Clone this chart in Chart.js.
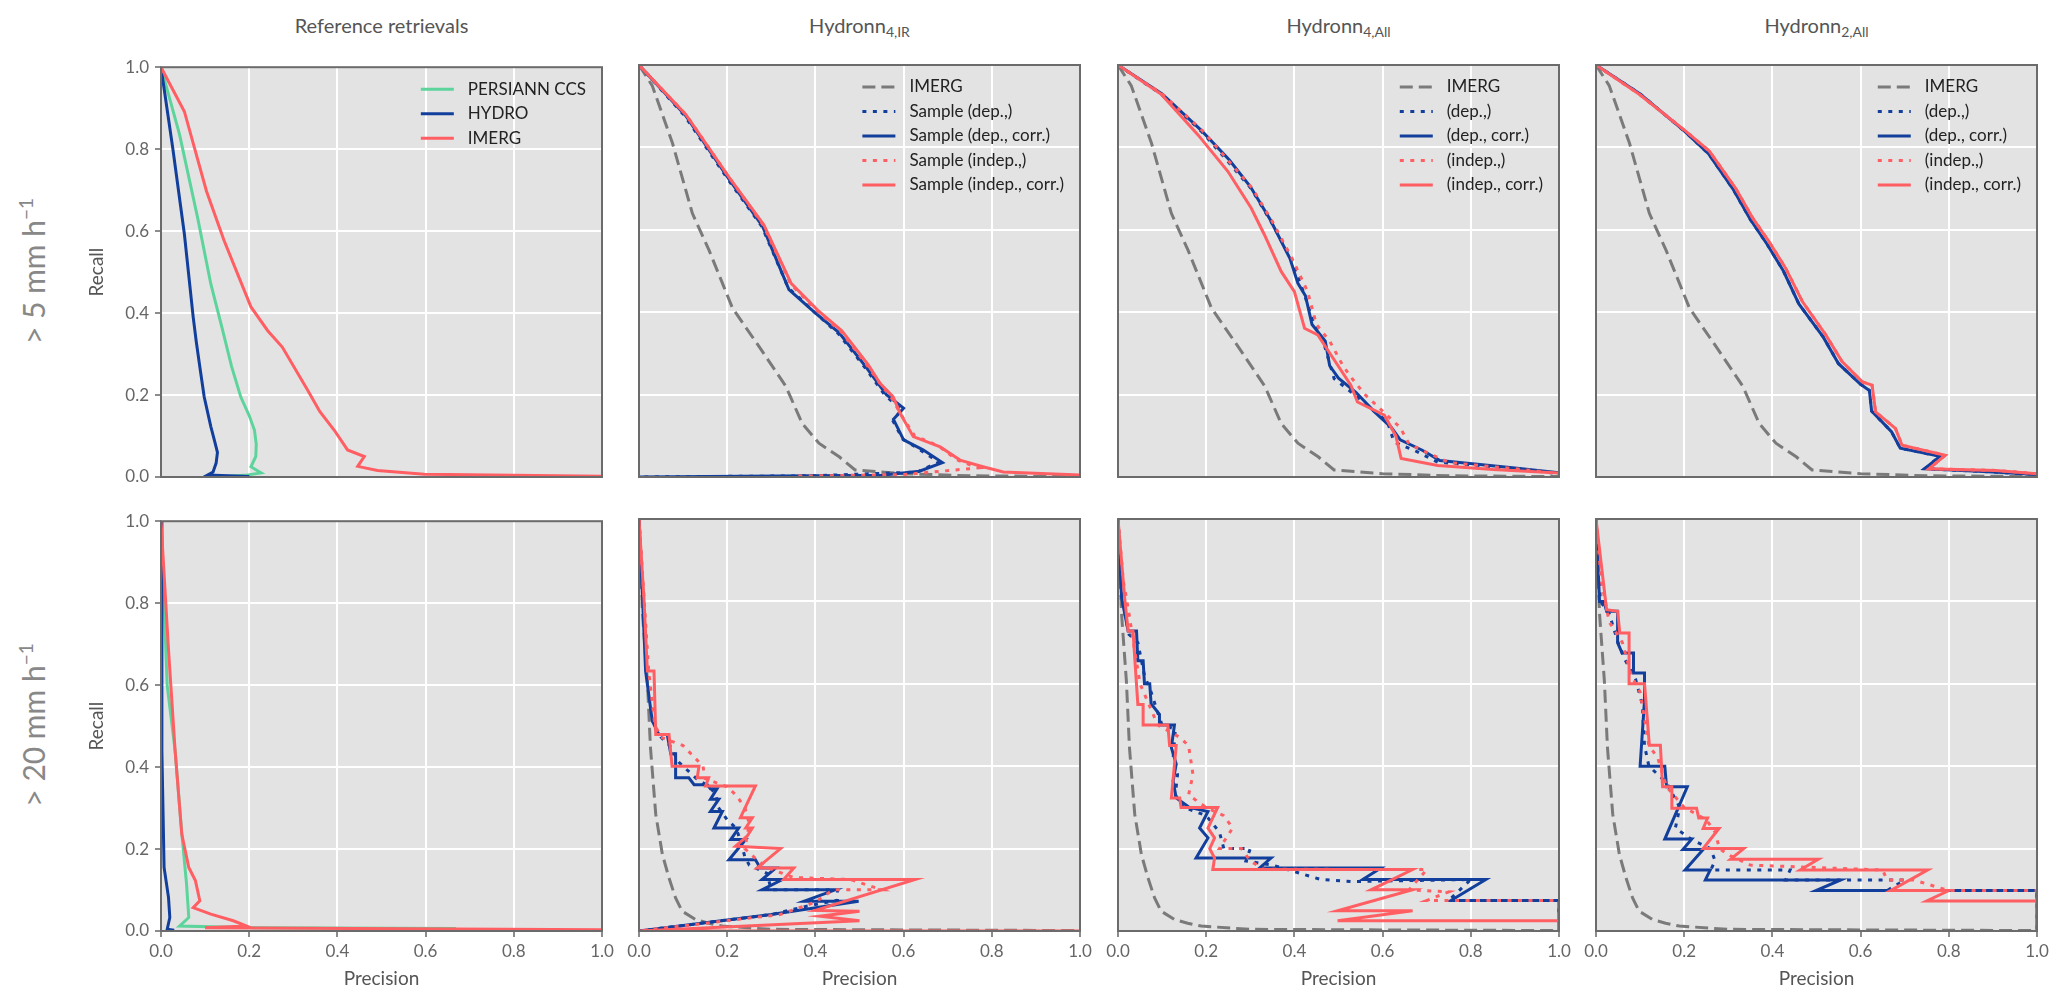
<!DOCTYPE html>
<html>
<head>
<meta charset="utf-8">
<title>Precision-recall curves</title>
<script src="https://cdn.jsdelivr.net/npm/chart.js@4.4.0/dist/chart.umd.min.js"></script>
<style>
    body { margin: 0; background: #fff; width: 2067px; height: 1008px; overflow: hidden; position: relative; font-family: Lato, sans-serif; }
    canvas { position: absolute; }
    .coltitle { position: absolute; top: 10px; width: 441px; height: 30px; line-height: 30px; text-align: center; font-size: 20px; color: #555; }
    .coltitle sub { font-size: 14px; vertical-align: -4px; line-height: 0; }
    .rowlabel { position: absolute; width: 300px; height: 40px; line-height: 40px; text-align: center; font-size: 30px; color: #888; transform: rotate(-90deg); white-space: nowrap; }
    .rowlabel sup { font-size: 19px; vertical-align: 12px; line-height: 0; }
</style>
</head>
<body>
<div class="coltitle" style="left:161px">Reference retrievals</div>
<div class="coltitle" style="left:639px">Hydronn<sub>4,IR</sub></div>
<div class="coltitle" style="left:1118px">Hydronn<sub>4,All</sub></div>
<div class="coltitle" style="left:1596px">Hydronn<sub>2,All</sub></div>
<div class="rowlabel" style="left:-117px; top:251px">&gt; 5 mm h<sup>−1</sup></div>
<div class="rowlabel" style="left:-117px; top:705px">&gt; 20 mm h<sup>−1</sup></div>

<script>
// Curves as [precision, recall] pairs

// > 5 mm/h, reference retrievals
const persiann5 = [[0, 1], [0.042, 0.836], [0.083, 0.633], [0.113, 0.471], [0.14, 0.357], [0.16, 0.27], [0.181, 0.195], [0.2, 0.15], [0.212, 0.114], [0.216, 0.08], [0.215, 0.05], [0.204, 0.025], [0.227, 0.01], [0.19, 0.004], [0.15, 0.002]];
const hydro5 = [[0, 1], [0.027, 0.8], [0.053, 0.593], [0.073, 0.39], [0.08, 0.33], [0.088, 0.269], [0.098, 0.195], [0.113, 0.123], [0.121, 0.09], [0.128, 0.06], [0.125, 0.034], [0.118, 0.012], [0.106, 0.005], [0.2, 0.001]];
const imergRef5 = [[0, 1], [0.053, 0.892], [0.103, 0.698], [0.143, 0.577], [0.204, 0.415], [0.242, 0.357], [0.275, 0.317], [0.333, 0.211], [0.36, 0.16], [0.393, 0.114], [0.423, 0.066], [0.461, 0.05], [0.446, 0.026], [0.491, 0.016], [0.597, 0.007], [1, 0.002]];

// > 5 mm/h, IMERG baseline shown in the Hydronn panels
const imerg5 = [[0, 1], [0.03, 0.95], [0.076, 0.81], [0.121, 0.64], [0.159, 0.55], [0.212, 0.41], [0.272, 0.317], [0.333, 0.22], [0.37, 0.13], [0.408, 0.082], [0.454, 0.049], [0.49, 0.017], [0.6, 0.008], [0.75, 0.003], [1, 0.001]];

// > 5 mm/h, Hydronn 4 IR
const h4ir5DepDot = [[0, 1], [0.104, 0.876], [0.202, 0.722], [0.279, 0.607], [0.338, 0.46], [0.398, 0.4], [0.452, 0.348], [0.512, 0.266], [0.558, 0.198], [0.596, 0.163], [0.575, 0.138], [0.598, 0.092], [0.64, 0.064], [0.68, 0.036], [0.63, 0.012], [0.4, 0.003], [0, 0]];
const h4ir5Dep = [[0, 1], [0.106, 0.877], [0.204, 0.723], [0.28, 0.609], [0.34, 0.455], [0.4, 0.398], [0.454, 0.35], [0.514, 0.268], [0.561, 0.2], [0.6, 0.167], [0.577, 0.14], [0.6, 0.09], [0.644, 0.066], [0.688, 0.035], [0.636, 0.014], [0.55, 0.004], [0, 0]];
const h4ir5IndepDot = [[0, 1], [0.107, 0.879], [0.205, 0.726], [0.282, 0.611], [0.344, 0.468], [0.404, 0.403], [0.458, 0.353], [0.518, 0.27], [0.548, 0.225], [0.574, 0.19], [0.595, 0.15], [0.625, 0.1], [0.68, 0.075], [0.72, 0.042], [0.77, 0.022], [0.6, 0.006], [0.35, 0.002]];
const h4ir5Indep = [[0, 1], [0.106, 0.88], [0.204, 0.728], [0.283, 0.612], [0.345, 0.47], [0.405, 0.405], [0.46, 0.355], [0.52, 0.272], [0.546, 0.228], [0.576, 0.195], [0.592, 0.155], [0.622, 0.098], [0.683, 0.073], [0.728, 0.041], [0.78, 0.025], [0.826, 0.012], [1, 0.005]];

// > 5 mm/h, Hydronn 4 All
const h4all5DepDot = [[0, 1], [0.098, 0.929], [0.189, 0.839], [0.249, 0.766], [0.302, 0.7], [0.347, 0.62], [0.392, 0.531], [0.423, 0.442], [0.445, 0.369], [0.468, 0.32], [0.49, 0.239], [0.528, 0.207], [0.574, 0.166], [0.611, 0.134], [0.626, 0.085], [0.679, 0.061], [0.725, 0.036], [0.906, 0.02], [1, 0.008]];
const h4all5Dep = [[0, 1], [0.1, 0.93], [0.19, 0.84], [0.252, 0.77], [0.3, 0.705], [0.345, 0.625], [0.39, 0.53], [0.408, 0.47], [0.425, 0.44], [0.44, 0.37], [0.47, 0.33], [0.48, 0.27], [0.5, 0.24], [0.54, 0.205], [0.58, 0.16], [0.62, 0.12], [0.64, 0.09], [0.69, 0.065], [0.73, 0.04], [0.9, 0.022], [1, 0.01]];
const h4all5IndepDot = [[0, 1], [0.1, 0.93], [0.192, 0.84], [0.25, 0.768], [0.305, 0.7], [0.35, 0.62], [0.395, 0.53], [0.43, 0.45], [0.45, 0.37], [0.48, 0.33], [0.51, 0.27], [0.53, 0.24], [0.56, 0.2], [0.6, 0.16], [0.64, 0.12], [0.66, 0.08], [0.7, 0.06], [0.75, 0.035], [0.92, 0.018], [1, 0.008]];
const h4all5Indep = [[0, 1], [0.098, 0.929], [0.181, 0.831], [0.249, 0.742], [0.302, 0.653], [0.332, 0.588], [0.37, 0.499], [0.4, 0.45], [0.423, 0.361], [0.453, 0.345], [0.483, 0.296], [0.528, 0.223], [0.543, 0.182], [0.604, 0.15], [0.63, 0.1], [0.642, 0.045], [0.725, 0.028], [0.85, 0.018], [1, 0.01]];

// > 5 mm/h, Hydronn 2 All
const h2all5Dep = [[0, 1], [0.1, 0.93], [0.2, 0.84], [0.255, 0.785], [0.31, 0.7], [0.35, 0.625], [0.388, 0.565], [0.425, 0.5], [0.46, 0.42], [0.515, 0.34], [0.55, 0.275], [0.6, 0.225], [0.62, 0.21], [0.625, 0.16], [0.67, 0.11], [0.69, 0.07], [0.78, 0.05], [0.745, 0.02], [0.9, 0.012], [1, 0.006]];
const h2all5Indep = [[0, 1], [0.098, 0.929], [0.204, 0.839], [0.257, 0.791], [0.317, 0.7], [0.355, 0.629], [0.392, 0.572], [0.43, 0.507], [0.468, 0.426], [0.521, 0.345], [0.558, 0.28], [0.604, 0.231], [0.626, 0.223], [0.634, 0.158], [0.679, 0.118], [0.694, 0.077], [0.792, 0.053], [0.755, 0.02], [0.906, 0.016], [1, 0.008]];

// > 20 mm/h, reference retrievals
const persiann20 = [[0, 1], [0.014, 0.6], [0.032, 0.44], [0.047, 0.24], [0.058, 0.114], [0.063, 0.033], [0.042, 0.012], [0.214, 0.008], [0.669, 0.006]];
const hydro20 = [[0, 1], [0.002, 0.44], [0.007, 0.155], [0.017, 0.082], [0.02, 0.033], [0.014, 0.004], [0.03, 0.002]];
const imergRef20 = [[0, 1], [0.017, 0.687], [0.032, 0.44], [0.047, 0.237], [0.063, 0.155], [0.078, 0.123], [0.088, 0.074], [0.073, 0.057], [0.113, 0.041], [0.164, 0.025], [0.194, 0.012], [0.1, 0.008], [1, 0.003]];

// > 20 mm/h, IMERG baseline shown in the Hydronn panels
const imerg20 = [[0, 1], [0.008, 0.77], [0.019, 0.607], [0.026, 0.445], [0.038, 0.283], [0.053, 0.186], [0.068, 0.129], [0.083, 0.08], [0.098, 0.048], [0.128, 0.028], [0.158, 0.019], [0.189, 0.012], [0.3, 0.004], [1, 0.001]];

// > 20 mm/h, Hydronn 4 IR
const h4ir20DepDot = [[0, 1], [0.01, 0.8], [0.018, 0.63], [0.032, 0.5], [0.05, 0.47], [0.07, 0.45], [0.09, 0.41], [0.13, 0.37], [0.16, 0.35], [0.175, 0.33], [0.18, 0.3], [0.2, 0.27], [0.22, 0.25], [0.23, 0.22], [0.24, 0.18], [0.25, 0.16], [0.29, 0.14], [0.3, 0.1], [0.45, 0.1], [0.45, 0.075], [0.38, 0.06], [0.3, 0.04], [0, 0]];
const h4ir20Dep = [[0, 1], [0.008, 0.81], [0.015, 0.631], [0.03, 0.51], [0.045, 0.477], [0.064, 0.477], [0.072, 0.43], [0.083, 0.43], [0.083, 0.372], [0.113, 0.372], [0.125, 0.355], [0.155, 0.355], [0.162, 0.345], [0.177, 0.345], [0.162, 0.32], [0.181, 0.32], [0.162, 0.29], [0.189, 0.29], [0.17, 0.25], [0.226, 0.25], [0.208, 0.222], [0.242, 0.222], [0.204, 0.173], [0.264, 0.173], [0.275, 0.153], [0.31, 0.153], [0.279, 0.125], [0.325, 0.125], [0.279, 0.1], [0.445, 0.1], [0.374, 0.072], [0.498, 0.072], [0.3, 0.04], [0, 0]];
const h4ir20IndepDot = [[0, 1], [0.012, 0.8], [0.022, 0.63], [0.036, 0.5], [0.05, 0.47], [0.1, 0.45], [0.145, 0.4], [0.15, 0.37], [0.2, 0.35], [0.22, 0.33], [0.24, 0.3], [0.25, 0.26], [0.24, 0.2], [0.27, 0.17], [0.3, 0.15], [0.35, 0.13], [0.48, 0.125], [0.55, 0.1], [0.44, 0.1], [0.4, 0.07], [0.32, 0.04], [0, 0]];
const h4ir20Indep = [[0, 1], [0.011, 0.81], [0.019, 0.631], [0.034, 0.631], [0.038, 0.477], [0.068, 0.477], [0.075, 0.4], [0.136, 0.4], [0.132, 0.372], [0.158, 0.372], [0.151, 0.352], [0.264, 0.352], [0.23, 0.275], [0.257, 0.275], [0.242, 0.25], [0.257, 0.25], [0.245, 0.23], [0.219, 0.206], [0.321, 0.2], [0.268, 0.153], [0.351, 0.153], [0.328, 0.125], [0.626, 0.125], [0.4, 0.05], [0.5, 0.048], [0.41, 0.036], [0.5, 0.025], [0, 0], [1, 0]];

// > 20 mm/h, Hydronn 4 All
const h4all20DepDot = [[0, 1], [0.01, 0.8], [0.025, 0.72], [0.045, 0.7], [0.06, 0.62], [0.075, 0.58], [0.09, 0.53], [0.1, 0.5], [0.13, 0.49], [0.125, 0.42], [0.135, 0.38], [0.13, 0.33], [0.15, 0.3], [0.2, 0.28], [0.23, 0.24], [0.24, 0.2], [0.3, 0.2], [0.29, 0.17], [0.35, 0.16], [0.46, 0.125], [0.53, 0.12], [0.8, 0.125], [0.75, 0.074], [1, 0.074], [1, 0]];
const h4all20Dep = [[0, 1], [0.008, 0.81], [0.023, 0.728], [0.042, 0.728], [0.045, 0.656], [0.057, 0.656], [0.06, 0.6], [0.072, 0.6], [0.075, 0.552], [0.094, 0.526], [0.094, 0.5], [0.128, 0.5], [0.121, 0.445], [0.132, 0.405], [0.125, 0.364], [0.132, 0.323], [0.162, 0.3], [0.204, 0.29], [0.185, 0.25], [0.204, 0.226], [0.177, 0.177], [0.347, 0.177], [0.321, 0.153], [0.596, 0.153], [0.555, 0.125], [0.834, 0.125], [0.755, 0.074], [1, 0.074], [1, 0]];
const h4all20IndepDot = [[0, 1], [0.012, 0.85], [0.025, 0.77], [0.035, 0.7], [0.05, 0.6], [0.07, 0.55], [0.09, 0.5], [0.14, 0.47], [0.16, 0.45], [0.17, 0.38], [0.16, 0.33], [0.2, 0.3], [0.24, 0.28], [0.26, 0.25], [0.23, 0.2], [0.28, 0.2], [0.3, 0.17], [0.33, 0.15], [0.7, 0.149], [0.66, 0.1], [0.75, 0.095], [0.7, 0.074], [1, 0.074], [1, 0]];
const h4all20Indep = [[0, 1], [0.015, 0.81], [0.023, 0.728], [0.034, 0.728], [0.04, 0.63], [0.045, 0.55], [0.057, 0.55], [0.057, 0.5], [0.113, 0.5], [0.117, 0.45], [0.132, 0.45], [0.121, 0.323], [0.14, 0.323], [0.143, 0.3], [0.226, 0.3], [0.204, 0.25], [0.219, 0.226], [0.208, 0.2], [0.219, 0.177], [0.215, 0.149], [0.668, 0.149], [0.574, 0.1], [0.668, 0.1], [0.498, 0.049], [0.668, 0.049], [0.498, 0.025], [1, 0.025], [1, 0]];

// > 20 mm/h, Hydronn 2 All
const h2all20DepDot = [[0, 1], [0.01, 0.8], [0.03, 0.77], [0.05, 0.7], [0.065, 0.66], [0.09, 0.61], [0.105, 0.55], [0.11, 0.45], [0.12, 0.4], [0.16, 0.36], [0.19, 0.3], [0.18, 0.25], [0.22, 0.22], [0.26, 0.2], [0.27, 0.17], [0.26, 0.148], [0.44, 0.148], [0.43, 0.124], [0.7, 0.124], [0.66, 0.098], [1, 0.098], [1, 0]];
const h2all20Dep = [[0, 1], [0.008, 0.8], [0.018, 0.8], [0.024, 0.776], [0.049, 0.776], [0.049, 0.7], [0.059, 0.675], [0.085, 0.675], [0.085, 0.626], [0.11, 0.626], [0.11, 0.56], [0.1, 0.4], [0.156, 0.4], [0.16, 0.35], [0.207, 0.35], [0.156, 0.223], [0.217, 0.223], [0.197, 0.198], [0.243, 0.198], [0.202, 0.148], [0.259, 0.148], [0.248, 0.124], [0.555, 0.124], [0.499, 0.098], [1, 0.098], [1, 0]];
const h2all20IndepDot = [[0, 1], [0.012, 0.85], [0.03, 0.75], [0.06, 0.7], [0.08, 0.62], [0.1, 0.58], [0.12, 0.45], [0.14, 0.42], [0.16, 0.35], [0.2, 0.3], [0.25, 0.27], [0.27, 0.24], [0.28, 0.2], [0.3, 0.185], [0.35, 0.16], [0.65, 0.148], [0.66, 0.124], [0.72, 0.124], [0.8, 0.098], [1, 0.098], [1, 0]];
const h2all20Indep = [[0, 1], [0.024, 0.78], [0.049, 0.776], [0.054, 0.723], [0.075, 0.723], [0.075, 0.6], [0.11, 0.6], [0.121, 0.451], [0.146, 0.451], [0.151, 0.35], [0.172, 0.35], [0.172, 0.298], [0.228, 0.298], [0.233, 0.274], [0.253, 0.274], [0.243, 0.249], [0.279, 0.249], [0.243, 0.2], [0.335, 0.2], [0.305, 0.174], [0.504, 0.174], [0.463, 0.148], [0.752, 0.148], [0.668, 0.098], [0.8, 0.098], [0.75, 0.073], [1, 0.073], [1, 0]];

const axisTicks = [0, 0.2, 0.4, 0.6, 0.8, 1.0];

// Layout of the plot areas (pixels)
const COL_X = [161, 639, 1118, 1596];
const ROW_Y = [65, 519];
const PW = 441, PH = 412;
const PAD_L = 80, PAD_T = 14, PAD_R = 20, PAD_B = 63;
const FONT = 'Lato, sans-serif';

const BLUE = '#123f9c', RED = '#ff5e63', GREEN = '#5dd49b', GRAY = '#7a7a7a';
const DOT = [4, 6.5], DASH = [13, 6];

function line(label, pts, color, dash) {
    return {
        label: label,
        data: pts.map(p => ({ x: p[0], y: p[1] })),
        borderColor: color,
        borderWidth: 3,
        borderDash: dash || [],
        pointRadius: 0,
        showLine: true,
        tension: 0,
        fill: false
    };
}

const panels = [
    { col: 0, row: 0, legend: true, sets: [
        line('PERSIANN CCS', persiann5, GREEN), line('HYDRO', hydro5, BLUE), line('IMERG', imergRef5, RED)] },
    { col: 1, row: 0, legend: true, sets: [
        line('IMERG', imerg5, GRAY, DASH),
        line('Sample (dep.,)', h4ir5DepDot, BLUE, DOT), line('Sample (dep., corr.)', h4ir5Dep, BLUE),
        line('Sample (indep.,)', h4ir5IndepDot, RED, DOT), line('Sample (indep., corr.)', h4ir5Indep, RED)] },
    { col: 2, row: 0, legend: true, sets: [
        line('IMERG', imerg5, GRAY, DASH),
        line('(dep.,)', h4all5DepDot, BLUE, DOT), line('(dep., corr.)', h4all5Dep, BLUE),
        line('(indep.,)', h4all5IndepDot, RED, DOT), line('(indep., corr.)', h4all5Indep, RED)] },
    { col: 3, row: 0, legend: true, sets: [
        line('IMERG', imerg5, GRAY, DASH),
        line('(dep.,)', h2all5Dep, BLUE, DOT), line('(dep., corr.)', h2all5Dep, BLUE),
        line('(indep.,)', h2all5Indep, RED, DOT), line('(indep., corr.)', h2all5Indep, RED)] },
    { col: 0, row: 1, legend: false, sets: [
        line('PERSIANN CCS', persiann20, GREEN), line('HYDRO', hydro20, BLUE), line('IMERG', imergRef20, RED)] },
    { col: 1, row: 1, legend: false, sets: [
        line('IMERG', imerg20, GRAY, DASH),
        line('Sample (dep.,)', h4ir20DepDot, BLUE, DOT), line('Sample (dep., corr.)', h4ir20Dep, BLUE),
        line('Sample (indep.,)', h4ir20IndepDot, RED, DOT), line('Sample (indep., corr.)', h4ir20Indep, RED)] },
    { col: 2, row: 1, legend: false, sets: [
        line('IMERG', imerg20, GRAY, DASH),
        line('(dep.,)', h4all20DepDot, BLUE, DOT), line('(dep., corr.)', h4all20Dep, BLUE),
        line('(indep.,)', h4all20IndepDot, RED, DOT), line('(indep., corr.)', h4all20Indep, RED)] },
    { col: 3, row: 1, legend: false, sets: [
        line('IMERG', imerg20, GRAY, DASH),
        line('(dep.,)', h2all20DepDot, BLUE, DOT), line('(dep., corr.)', h2all20Dep, BLUE),
        line('(indep.,)', h2all20IndepDot, RED, DOT), line('(indep., corr.)', h2all20Indep, RED)] }
];

// Grey plot background, frame and in-axes legend
const framePlugin = {
    id: 'frame',
    beforeDraw(chart) {
        const { ctx, chartArea: a } = chart;
        ctx.save();
        ctx.fillStyle = '#e3e3e3';
        ctx.fillRect(a.left, a.top, a.width, a.height);
        ctx.restore();
    },
    afterDraw(chart, args, opts) {
        const { ctx, chartArea: a } = chart;
        ctx.save();
        ctx.strokeStyle = '#6b6b6b';
        ctx.lineWidth = 2;
        ctx.strokeRect(a.left, a.top, a.width, a.height);
        if (opts.legend) {
            ctx.font = '17px ' + FONT;
            ctx.textBaseline = 'middle';
            const sets = chart.data.datasets;
            const maxW = Math.max(...sets.map(d => ctx.measureText(d.label).width));
            const tx = a.right - 16 - maxW;
            sets.forEach((d, i) => {
                const y = a.top + 22 + i * 24.5;
                ctx.strokeStyle = d.borderColor;
                ctx.lineWidth = d.borderWidth;
                ctx.setLineDash(d.borderDash);
                ctx.beginPath();
                ctx.moveTo(tx - 47, y);
                ctx.lineTo(tx - 14, y);
                ctx.stroke();
                ctx.setLineDash([]);
                ctx.fillStyle = '#222';
                ctx.fillText(d.label, tx, y);
            });
        }
        ctx.restore();
    }
};

panels.forEach(p => {
    const canvas = document.createElement('canvas');
    const w = PAD_L + PW + PAD_R, h = PAD_T + PH + PAD_B;
    canvas.width = w;
    canvas.height = h;
    canvas.style.width = w + 'px';
    canvas.style.height = h + 'px';
    canvas.style.left = (COL_X[p.col] - PAD_L) + 'px';
    canvas.style.top = (ROW_Y[p.row] - PAD_T) + 'px';
    document.body.appendChild(canvas);

    const n = p.sets.length;
    // later series sit on top, as in the original figure
    p.sets.forEach((d, i) => { d.order = n - i; });

    const showX = p.row === 1, showY = p.col === 0;

    new Chart(canvas.getContext('2d'), {
        type: 'scatter',
        data: { datasets: p.sets },
        options: {
            responsive: false,
            animation: false,
            devicePixelRatio: 1,
            layout: { padding: { left: 0, top: PAD_T, right: PAD_R, bottom: 0 } },
            plugins: {
                legend: { display: false },
                tooltip: { enabled: false },
                frame: { legend: p.legend }
            },
            scales: {
                x: {
                    type: 'linear', min: 0, max: 1,
                    afterBuildTicks: s => { s.ticks = axisTicks.map(v => ({ value: v })); },
                    afterFit: s => { s.height = PAD_B; },
                    ticks: { display: showX, color: '#666', padding: 4, font: { family: FONT, size: 17 }, callback: v => v.toFixed(1) },
                    grid: { color: '#ffffff', lineWidth: 2, drawTicks: showX, tickLength: 6, tickColor: '#666', tickWidth: 1.5 },
                    border: { display: false },
                    title: { display: showX, text: 'Precision', color: '#555', font: { family: FONT, size: 19 } }
                },
                y: {
                    type: 'linear', min: 0, max: 1,
                    afterBuildTicks: s => { s.ticks = axisTicks.map(v => ({ value: v })); },
                    afterFit: s => { s.width = PAD_L; },
                    ticks: { display: showY, color: '#666', padding: 6, font: { family: FONT, size: 17 }, callback: v => v.toFixed(1) },
                    grid: { color: '#ffffff', lineWidth: 2, drawTicks: showY, tickLength: 6, tickColor: '#666', tickWidth: 1.5 },
                    border: { display: false },
                    title: { display: showY, text: 'Recall', color: '#555', font: { family: FONT, size: 19 } }
                }
            }
        },
        plugins: [framePlugin]
    });
});
</script>
</body>
</html>
